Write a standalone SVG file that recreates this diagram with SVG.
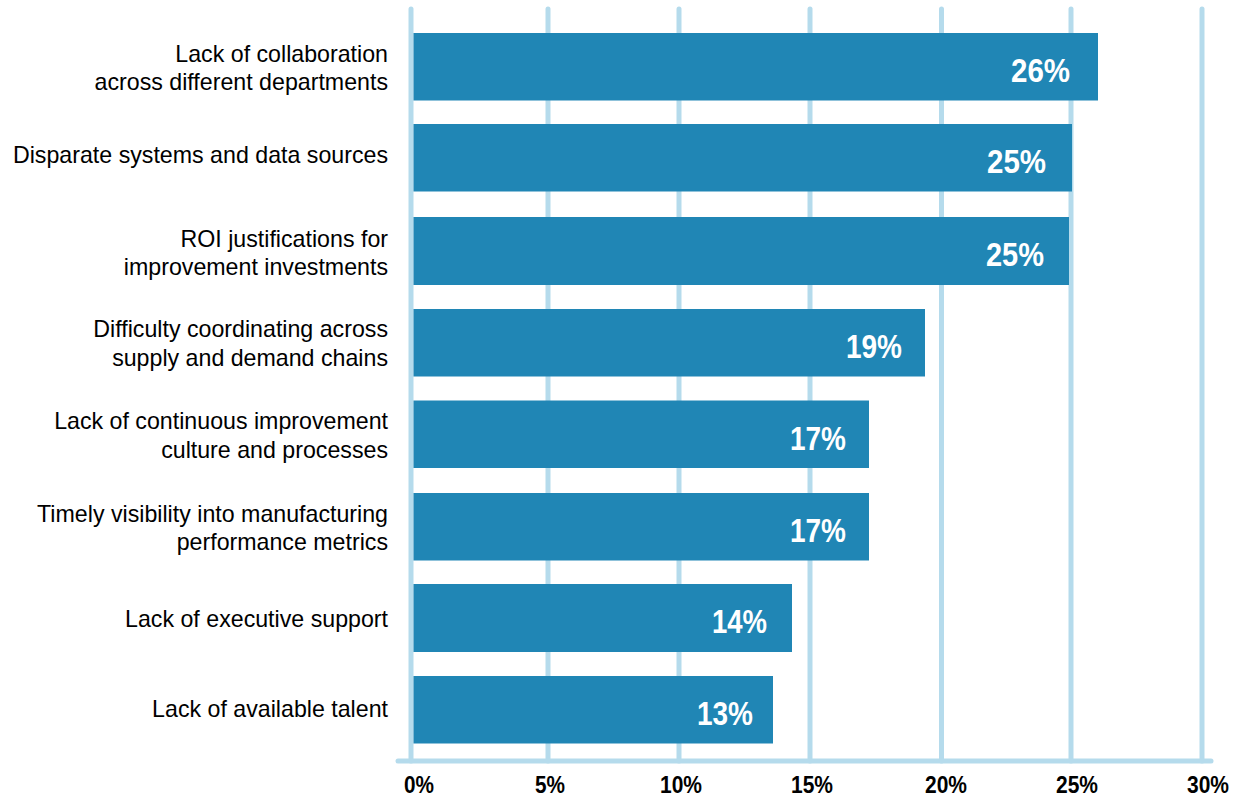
<svg xmlns="http://www.w3.org/2000/svg" width="1233" height="799" viewBox="0 0 1233 799">
<style>
.grid{stroke:#b5dbec;stroke-width:5;stroke-linecap:round;fill:none}
.bar{fill:#2086b5}
.lbl{font-family:"Liberation Sans",Arial,sans-serif;font-size:23.2px;fill:#000;text-anchor:end}
.val{font-family:"Liberation Sans",Arial,sans-serif;font-weight:bold;font-size:32.5px;fill:#fff;text-anchor:end}
.ax{font-family:"Liberation Sans",Arial,sans-serif;font-weight:bold;font-size:23.5px;fill:#000;text-anchor:middle}
</style>
<rect width="1233" height="799" fill="#fff"/>
<g id="axes">
<line class="grid" x1="411" y1="9" x2="411" y2="761"/>
<line class="grid" x1="548" y1="9" x2="548" y2="761"/>
<line class="grid" x1="679" y1="9" x2="679" y2="761"/>
<line class="grid" x1="810" y1="9" x2="810" y2="761"/>
<line class="grid" x1="941.5" y1="9" x2="941.5" y2="761"/>
<line class="grid" x1="1071" y1="9" x2="1071" y2="761"/>
<line class="grid" x1="1202" y1="9" x2="1202" y2="761"/>
<line class="grid" x1="398" y1="761" x2="1211" y2="761"/>
<text class="ax" x="419" y="793" textLength="30" lengthAdjust="spacingAndGlyphs">0%</text>
<text class="ax" x="550" y="793" textLength="30" lengthAdjust="spacingAndGlyphs">5%</text>
<text class="ax" x="681" y="793" textLength="42" lengthAdjust="spacingAndGlyphs">10%</text>
<text class="ax" x="812" y="793" textLength="42" lengthAdjust="spacingAndGlyphs">15%</text>
<text class="ax" x="946" y="793" textLength="42" lengthAdjust="spacingAndGlyphs">20%</text>
<text class="ax" x="1077" y="793" textLength="42" lengthAdjust="spacingAndGlyphs">25%</text>
<text class="ax" x="1208" y="793" textLength="42" lengthAdjust="spacingAndGlyphs">30%</text>
</g>
<g id="bar1"><rect class="bar" x="413.5" y="33" width="684.5" height="67.5"/><text class="lbl" x="388" y="62">Lack of collaboration</text><text class="lbl" x="388" y="90">across different departments</text><text class="val" x="1070" y="81.5" textLength="59" lengthAdjust="spacingAndGlyphs">26%</text></g>
<g id="bar2"><rect class="bar" x="413.5" y="124" width="658.5" height="67.5"/><text class="lbl" x="388" y="163">Disparate systems and data sources</text><text class="val" x="1046" y="173" textLength="59" lengthAdjust="spacingAndGlyphs">25%</text></g>
<g id="bar3"><rect class="bar" x="413.5" y="217" width="655.5" height="68"/><text class="lbl" x="388" y="246.5">ROI justifications for</text><text class="lbl" x="388" y="275">improvement investments</text><text class="val" x="1044" y="266" textLength="58" lengthAdjust="spacingAndGlyphs">25%</text></g>
<g id="bar4"><rect class="bar" x="413.5" y="309" width="511.5" height="67.5"/><text class="lbl" x="388" y="337">Difficulty coordinating across</text><text class="lbl" x="388" y="365.5">supply and demand chains</text><text class="val" x="902" y="358" textLength="56" lengthAdjust="spacingAndGlyphs">19%</text></g>
<g id="bar5"><rect class="bar" x="413.5" y="400.5" width="455.5" height="67.5"/><text class="lbl" x="388" y="429">Lack of continuous improvement</text><text class="lbl" x="388" y="457.5">culture and processes</text><text class="val" x="846" y="450" textLength="56" lengthAdjust="spacingAndGlyphs">17%</text></g>
<g id="bar6"><rect class="bar" x="413.5" y="493" width="455.5" height="67.5"/><text class="lbl" x="388" y="521.5">Timely visibility into manufacturing</text><text class="lbl" x="388" y="550">performance metrics</text><text class="val" x="846" y="542" textLength="56" lengthAdjust="spacingAndGlyphs">17%</text></g>
<g id="bar7"><rect class="bar" x="413.5" y="584" width="378.5" height="68"/><text class="lbl" x="388" y="626.5">Lack of executive support</text><text class="val" x="767" y="633" textLength="55" lengthAdjust="spacingAndGlyphs">14%</text></g>
<g id="bar8"><rect class="bar" x="413.5" y="676" width="359.5" height="67.5"/><text class="lbl" x="388" y="717">Lack of available talent</text><text class="val" x="753" y="724.5" textLength="56" lengthAdjust="spacingAndGlyphs">13%</text></g>
</svg>
